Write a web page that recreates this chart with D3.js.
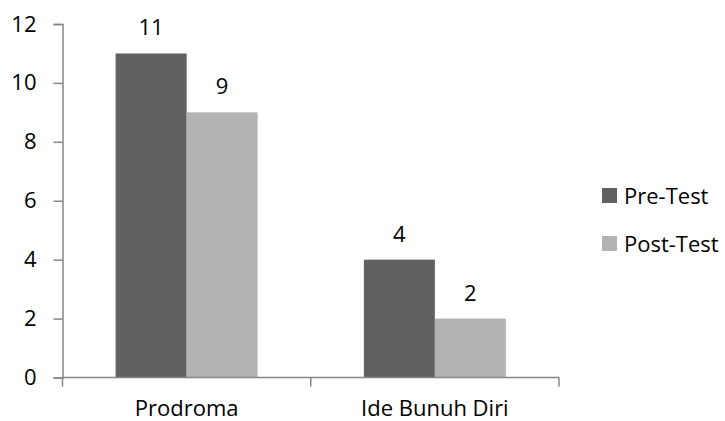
<!DOCTYPE html>
<html>
<head>
<meta charset="utf-8">
<script src="https://cdn.jsdelivr.net/npm/d3@7"></script>
<style>
  body { margin: 0; background: #fff; }
  svg { display: block; font-family: 'Open Sans', sans-serif; }
</style>
</head>
<body>
<svg class="chart" width="725" height="421"></svg>
<script>
const categories = ['Prodroma', 'Ide Bunuh Diri']
const series = ['Pre-Test', 'Post-Test']
const preTest = [11, 4]
const postTest = [9, 2]
const yTicks = [0, 2, 4, 6, 8, 10, 12]

const colors = { 'Pre-Test': '#616161', 'Post-Test': '#b3b3b3' }
const axisColor = '#868686'
const fontSize = '22px'

const rows = categories.map((c, i) => ({ category: c, 'Pre-Test': preTest[i], 'Post-Test': postTest[i] }))

const svg = d3.select('.chart')

const x = d3.scaleBand()
  .domain(categories)
  .range([62.5, 559])
  .paddingInner(0.428)
  .paddingOuter(0.214)

const xs = d3.scaleBand()
  .domain(series)
  .range([0, x.bandwidth()])

const y = d3.scaleLinear()
  .domain([0, 12])
  .range([377.5, 24])

// bars
const groups = svg.append('g')
  .selectAll('g')
  .data(rows)
  .join('g')
  .attr('transform', d => 'translate(' + x(d.category) + ',0)')

groups.selectAll('rect')
  .data(d => series.map(s => ({ key: s, value: d[s] })))
  .join('rect')
  .attr('x', d => xs(d.key))
  .attr('y', d => y(d.value))
  .attr('width', xs.bandwidth())
  .attr('height', d => y(0) - y(d.value))
  .attr('fill', d => colors[d.key])

groups.selectAll('text')
  .data(d => series.map(s => ({ key: s, value: d[s] })))
  .join('text')
  .attr('x', d => xs(d.key) + xs.bandwidth() / 2)
  .attr('y', d => y(d.value) - 18)
  .attr('text-anchor', 'middle')
  .style('font-size', fontSize)
  .attr('fill', '#000')
  .text(d => d.value)

// y axis
const yAxis = svg.append('g')
  .attr('transform', 'translate(62.5,0)')
  .call(d3.axisLeft(y).tickValues(yTicks).tickSize(9).tickPadding(17))
yAxis.selectAll('.domain').attr('stroke', axisColor).attr('stroke-width', 1.5)
yAxis.selectAll('.tick line').attr('stroke', axisColor).attr('stroke-width', 1.5)
yAxis.selectAll('.tick text')
  .attr('fill', '#000')
  .style('font-size', fontSize)
  .style('font-family', 'Open Sans, sans-serif')

// x axis (ticks sit on category boundaries, like Excel)
const xAxisG = svg.append('g')
  .attr('transform', 'translate(0,' + y(0) + ')')
xAxisG.append('line')
  .attr('x1', x.range()[0]).attr('x2', x.range()[1])
  .attr('stroke', axisColor).attr('stroke-width', 1.5)
const bounds = [x.range()[0]].concat(categories.map(c => x(c) - x.step() * x.paddingInner() / 2 + x.step()))
xAxisG.selectAll('.bound')
  .data(bounds)
  .join('line')
  .attr('class', 'bound')
  .attr('x1', d => d).attr('x2', d => d)
  .attr('y1', 0).attr('y2', 9)
  .attr('stroke', axisColor).attr('stroke-width', 1.5)
xAxisG.selectAll('.label')
  .data(categories)
  .join('text')
  .attr('class', 'label')
  .attr('x', d => x(d) + x.bandwidth() / 2)
  .attr('y', 38)
  .attr('text-anchor', 'middle')
  .style('font-size', fontSize)
  .attr('fill', '#000')
  .text(d => d)

// legend
const legend = svg.append('g')
  .selectAll('g')
  .data(series)
  .join('g')
  .attr('transform', (d, i) => 'translate(602,' + (188 + i * 48) + ')')
legend.append('rect')
  .attr('width', 15)
  .attr('height', 15)
  .attr('fill', d => colors[d])
legend.append('text')
  .attr('x', 22)
  .attr('y', 16)
  .style('font-size', fontSize)
  .attr('fill', '#000')
  .text(d => d)
</script>
</body>
</html>
